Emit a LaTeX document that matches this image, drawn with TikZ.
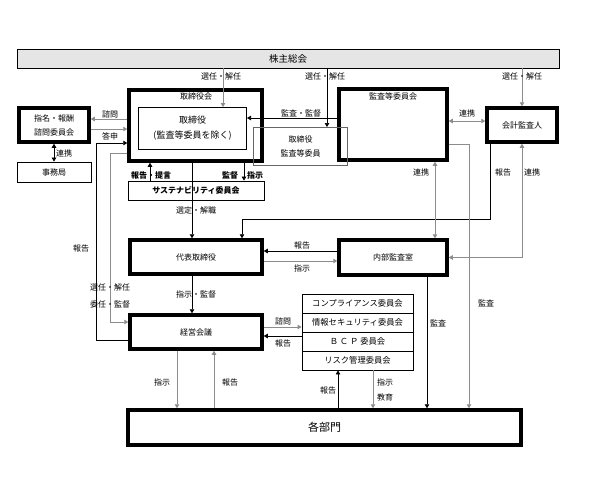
\documentclass[tikz,border=0pt]{standalone}
\usepackage{fontspec}
\setmainfont{Noto Sans CJK JP}
\usetikzlibrary{arrows.meta,positioning}

\begin{document}
\begin{tikzpicture}[x=1pt,y=-1pt,
  every node/.style={font=\fontsize{8}{9}\selectfont, inner sep=1pt},
  bigbox/.style={draw, line width=3.5pt},
  thinbox/.style={draw, line width=0.8pt},
  cbox/.style={draw, line width=0.8pt, minimum width=111, minimum height=19, font=\fontsize{8.3}{9}\selectfont},
  ln/.style={draw=black, line width=0.7pt},
  gln/.style={draw=black!45, line width=0.9pt},
  arr/.style={-{Triangle[length=4pt,width=4.5pt]}},
  darr/.style={{Triangle[length=4pt,width=4.5pt]}-{Triangle[length=4pt,width=4.5pt]}}]
  \useasboundingbox (0,0) rectangle (602,491);

  \node[draw, fill=black!10, line width=0.6pt, minimum width=542, minimum height=19,
    font=\fontsize{9.5}{10}\selectfont] (kabu) at (288,58.5) {株主総会};
  \node[bigbox, minimum width=133, minimum height=71] (torikai) at (195.5,125.5) {};
  \node (torikaiT) at (196,96) {取締役会};
  \node[draw, line width=1pt, minimum width=108, minimum height=42, align=center,
    font=\fontsize{9}{15}\selectfont] (torinner) at (192.5,128.5) {取締役\\(監査等委員を除く)};
  \node[bigbox, minimum width=108, minimum height=71] (kansakai) at (393,124.5) {};
  \node (kansakaiT) at (393,96) {監査等委員会};
  \node[draw=black!60, line width=1pt, minimum width=94, minimum height=38, align=center,
    font=\fontsize{8}{14}\selectfont] (kansa) at (300.5,146.5) {取締役\\監査等委員};
  \node[bigbox, minimum width=70, minimum height=34] (kaikei) at (522,125) {会計監査人};
  \node[bigbox, minimum width=70, minimum height=34, align=center,
    font=\fontsize{8}{14}\selectfont] (shimei) at (54,125) {指名・報酬\\諮問委員会};
  \node[thinbox, minimum width=74, minimum height=20] (jimu) at (54,172) {事務局};
  \node[thinbox, minimum width=136, minimum height=19, font=\bfseries\fontsize{8}{9}\selectfont]
    (sus) at (196,190.5) {サステナビリティ委員会};
  \node[bigbox, minimum width=132, minimum height=34] (daihyo) at (196,257) {代表取締役};
  \node[bigbox, minimum width=108, minimum height=35] (naibu) at (393,257.5) {内部監査室};
  \node[bigbox, minimum width=132, minimum height=34] (keiei) at (196,332) {経営会議};
  \node[cbox] (comm1) at (357.5,303.5) {コンプライアンス委員会};
  \node[cbox] (comm2) at (357.5,322.5) {情報セキュリティ委員会};
  \node[cbox] (comm3) at (357.5,341.5) {Ｂ Ｃ Ｐ 委員会};
  \node[cbox] (comm4) at (357.5,360.5) {リスク管理委員会};
  \node[bigbox, minimum width=393, minimum height=35, font=\fontsize{11}{12}\selectfont]
    (kakubu) at (324.5,427.5) {各部門};

  % from the shareholders
  \coordinate (selA) at ([xshift=30.5]torinner.north);
  \coordinate (selB) at ([xshift=26.5]kansa.north);
  \draw[gln,arr] (selA |- kabu.south) -- (selA);
  \node (lbA) at (221,76) {選任・解任};
  \draw[ln,arr] (selB |- kabu.south) -- (selB);
  \node (lbB) at (325,76) {選任・解任};
  \draw[gln,arr] (kaikei.north |- kabu.south) -- (kaikei.north);
  \node (lbC) at (522,76) {選任・解任};

  \draw[ln,arr] (kansakai.west |- 0,118) -- (torinner.east |- 0,118);
  \node (lbD) at (301,113) {監査・監督};
  \draw[gln,darr] (kansakai.east |- 0,121) -- (kaikei.west |- 0,121);
  \node (lbE) at (467,113) {連携};

  \draw[gln,arr] (torikai.west |- 0,119) -- (shimei.east |- 0,119);
  \node (lbF) at (110,114) {諮問};
  \draw[gln,arr] (shimei.east |- 0,129) -- (torikai.west |- 0,129);
  \node (lbG) at (110,136) {答申};
  \draw[ln,darr] (shimei.south) -- (jimu.north);
  \node (lbH) at (64,153) {連携};

  \draw[ln,arr] (keiei.west |- 0,340) -| (96,143) -- (torikai.west |- 0,143);
  \node (lbI) at (81,248) {報告};
  \draw[gln,arr] (torikai.west |- 0,153) -| (110,322) -- (keiei.west |- 0,322);
  \node (lbJ) at (110,287) {選任・解任};
  \node (lbK) at (110,304) {委任・監督};

  \draw[ln,arr] (sus.north -| 150,0) -- (torikai.south -| 150,0);
  \node[font=\bfseries\fontsize{8}{9}\selectfont] (lbL) at (151,175) {報告・提言};
  \draw[ln,arr] (torikai.south -| 244,0) -- (sus.north -| 244,0);
  \node[font=\bfseries\fontsize{8}{9}\selectfont] (lbM) at (230,175) {監督};
  \node[font=\bfseries\fontsize{8}{9}\selectfont] (lbN) at (255,175) {指示};
  \draw[ln,arr] (torikai.south -| 192,0) -- (daihyo.north -| 192,0);
  \node (lbO) at (196,210) {選定・解職};

  % auditors and internal audit
  \draw[ln,arr] (kaikei.south -| 490,0) |- (242,219) -- (daihyo.north -| 242,0);
  \node (lbP) at (503,172) {報告};
  \draw[gln,darr] (kaikei.south) |- (naibu.east);
  \node (lbQ) at (532,172) {連携};
  \draw[gln,darr] (kansakai.south -| 435,0) -- (naibu.north -| 435,0);
  \node (lbR) at (421,172) {連携};
  \draw[gln,arr] (kansakai.east |- 0,144) -| (kakubu.north -| 469,0);
  \node (lbS) at (486,303) {監査};
  \draw[ln,arr] (naibu.south -| 427,0) -- (kakubu.north -| 427,0);
  \node (lbT) at (438,323) {監査};

  \draw[ln,arr] (naibu.west |- 0,251) -- (daihyo.east |- 0,251);
  \node (lbU) at (302,245) {報告};
  \draw[gln,arr] (daihyo.east |- 0,261) -- (naibu.west |- 0,261);
  \node (lbV) at (302,268) {指示};
  \draw[ln,arr] (daihyo.south -| 192,0) -- (keiei.north -| 192,0);
  \node (lbW) at (196,294) {指示・監督};

  % management meeting, committees, departments
  \draw[gln,arr] (keiei.east |- 0,327) -- (comm2.west |- 0,327);
  \node (lbX) at (283,321) {諮問};
  \draw[ln,arr] (comm3.west |- 0,336) -- (keiei.east |- 0,336);
  \node (lbY) at (283,343) {報告};
  \draw[gln,arr] (keiei.south -| 177,0) -- (kakubu.north -| 177,0);
  \node (lbZ) at (162,382) {指示};
  \draw[gln,arr] (kakubu.north -| 214,0) -- (keiei.south -| 214,0);
  \node (lbAA) at (230,382) {報告};
  \draw[ln,arr] (kakubu.north -| 338,0) -- (comm4.south -| 338,0);
  \node (lbAB) at (328,390) {報告};
  \draw[gln,arr] (comm4.south -| 373,0) -- (kakubu.north -| 373,0);
  \node (lbAC) at (385,382) {指示};
  \node (lbAD) at (385,397) {教育};
\end{tikzpicture}
\end{document}
